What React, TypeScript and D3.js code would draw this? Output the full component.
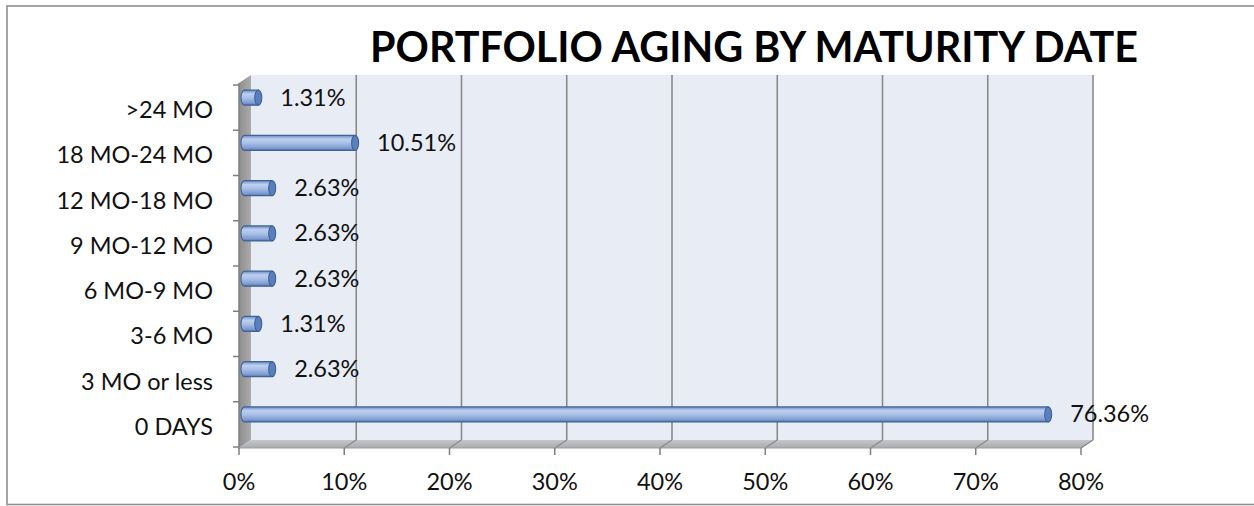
import React from "react";
import * as d3 from "d3";

const categories = [">24 MO", "18 MO-24 MO", "12 MO-18 MO", "9 MO-12 MO", "6 MO-9 MO", "3-6 MO", "3 MO or less", "0 DAYS"];
const values = [1.31, 10.51, 2.63, 2.63, 2.63, 1.31, 2.63, 76.36];
const valueLabels = ["1.31%", "10.51%", "2.63%", "2.63%", "2.63%", "1.31%", "2.63%", "76.36%"];
const ticks = [0, 10, 20, 30, 40, 50, 60, 70, 80];
const title = "PORTFOLIO AGING BY MATURITY DATE";

const W = 1254;
const H = 506;
const FONT = "Lato, 'Open Sans', sans-serif";

export default function App() {
  const x = d3.scaleLinear().domain([0, 80]).range([239, 1081]);
  const y = d3.scaleBand<string>().domain(categories).range([85, 447]).padding(0);
  const dx = 12;
  const dy = -8;
  const floorY = 448;
  const topY = 83;
  const barH = 15;
  const barOff = 5.5;
  const capRx = 3.5;

  const wallLeft = x(0) + dx;
  const wallRight = x(80) + dx;
  const wallTop = topY + dy;
  const wallBottom = floorY + dy;

  return (
    <svg width={W} height={H} style={{ position: "absolute", left: 0, top: 0, background: "#fff" }}>
      <defs>
        <linearGradient id="cyl" x1="0" y1="0" x2="0" y2="1">
          <stop offset="0%" stopColor="#6C8CC4" />
          <stop offset="25%" stopColor="#BCD0F0" />
          <stop offset="50%" stopColor="#AAC1E8" />
          <stop offset="85%" stopColor="#7F9CD0" />
          <stop offset="100%" stopColor="#5676B0" />
        </linearGradient>
        <linearGradient id="side" x1="0" y1="0" x2="1" y2="0">
          <stop offset="0%" stopColor="#8E8E8E" />
          <stop offset="100%" stopColor="#ABABAB" />
        </linearGradient>
        <linearGradient id="floor" x1="0" y1="0" x2="0" y2="1">
          <stop offset="0%" stopColor="#C4C6C9" />
          <stop offset="100%" stopColor="#A9ABAE" />
        </linearGradient>
      </defs>

      {/* outer border */}
      <rect x={7} y={6} width={1270} height={498.5} fill="#fff" stroke="#8E8E8E" strokeWidth={1.6} />

      {/* title */}
      <text x={754} y={62} textAnchor="middle" fontFamily={FONT} fontWeight={700} fontSize={42} fill="#000"
        textLength={768} lengthAdjust="spacingAndGlyphs">{title}</text>

      {/* back wall */}
      <rect x={wallLeft} y={wallTop} width={wallRight - wallLeft} height={wallBottom - wallTop} fill="#E8ECF5" />

      {/* side wall */}
      <polygon
        points={`${x(0)},${topY} ${wallLeft},${wallTop} ${wallLeft},${wallBottom} ${x(0)},${floorY}`}
        fill="url(#side)"
      />

      {/* floor */}
      <polygon
        points={`${x(0)},${floorY} ${wallLeft},${wallBottom} ${wallRight},${wallBottom} ${x(80)},${floorY}`}
        fill="url(#floor)"
      />

      {/* gridlines on back wall and floor */}
      {ticks.map((t) =>
        t === 0 ? null : (
          <g key={"g" + t}>
            <line x1={x(t) + dx} x2={x(t) + dx} y1={wallTop} y2={wallBottom} stroke="#8A8A8A" strokeWidth={1.6} />
            <line x1={x(t) + dx} x2={x(t)} y1={wallBottom} y2={floorY} stroke="#8A8A8A" strokeWidth={1.4} />
          </g>
        )
      )}

      {/* left axis line */}
      <line x1={x(0)} x2={x(0)} y1={topY} y2={floorY + 1} stroke="#7F7F7F" strokeWidth={1.5} />
      {/* bottom axis line */}
      <line x1={x(0)} x2={x(80)} y1={floorY} y2={floorY} stroke="#9A9A9A" strokeWidth={1} />

      {/* category ticks */}
      {categories.map((c) => (
        <line key={"ct" + c} x1={x(0) - 6} x2={x(0)} y1={y(c)!} y2={y(c)!} stroke="#7F7F7F" strokeWidth={1.5} />
      ))}
      <line x1={x(0) - 6} x2={x(0)} y1={y.range()[1]} y2={y.range()[1]} stroke="#7F7F7F" strokeWidth={1.5} />

      {/* x ticks */}
      {ticks.map((t) => (
        <line key={"xt" + t} x1={x(t)} x2={x(t)} y1={floorY} y2={floorY + 7} stroke="#7F7F7F" strokeWidth={1.5} />
      ))}

      {/* x tick labels */}
      {ticks.map((t) => (
        <text key={"xl" + t} x={x(t)} y={490} textAnchor="middle" fontFamily={FONT} fontSize={23.5} fill="#111">
          {t + "%"}
        </text>
      ))}

      {/* category labels */}
      {categories.map((c) => (
        <text key={"cl" + c} x={213} y={y(c)! + y.bandwidth() / 2 + 10.5} textAnchor="end" fontFamily={FONT} fontSize={23.5} fill="#111">
          {c}
        </text>
      ))}

      {/* bars */}
      {categories.map((c, i) => {
        const cy = y(c)! + y.bandwidth() / 2 - 10;
        const x0 = x(0) + barOff;
        const x1 = x(values[i]) + barOff;
        const top = cy - barH / 2;
        const bot = cy + barH / 2;
        const d = `M${x0},${top} L${x1},${top} L${x1},${bot} L${x0},${bot} A${capRx},${barH / 2} 0 0 1 ${x0},${top} Z`;
        return (
          <g key={"b" + c}>
            <path d={d} fill="url(#cyl)" stroke="#3D6399" strokeWidth={1.1} />
            <ellipse cx={x1} cy={cy} rx={capRx} ry={barH / 2} fill="#5B7FBC" stroke="#3D6399" strokeWidth={1.1} />
          </g>
        );
      })}

      {/* value labels */}
      {categories.map((c, i) => {
        const cy = y(c)! + y.bandwidth() / 2 - 10;
        return (
          <text key={"vl" + c} x={x(values[i]) + barOff + 22} y={cy + 8} fontFamily={FONT} fontSize={23.5} fill="#111">
            {valueLabels[i]}
          </text>
        );
      })}
    </svg>
  );
}
